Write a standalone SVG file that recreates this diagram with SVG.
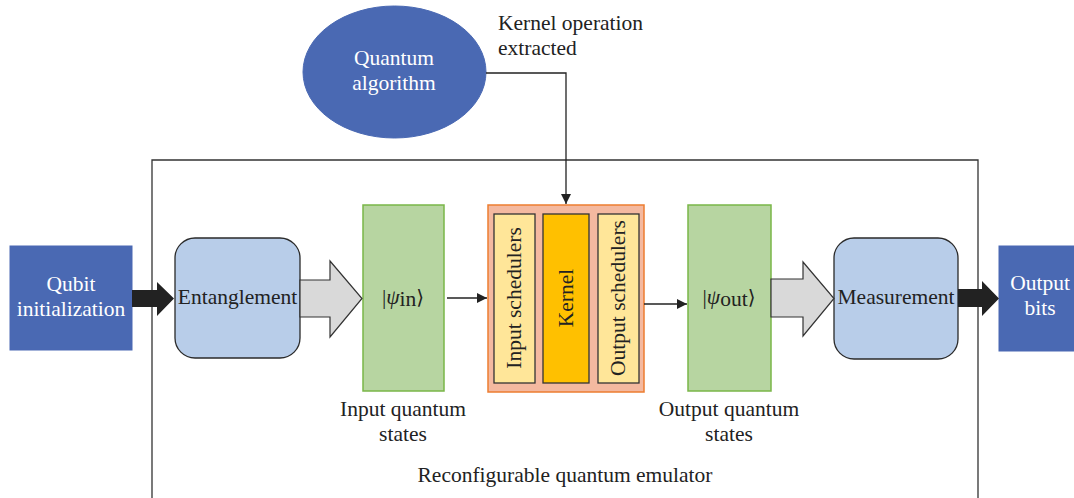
<svg xmlns="http://www.w3.org/2000/svg" width="1074" height="498" viewBox="0 0 1074 498">
<style>
text{font-family:"Liberation Serif","Times New Roman",serif;font-size:21.5px;fill:#222}
.w{fill:#fff}
.m{text-anchor:middle}
.blue{fill:#4a69b3;stroke:#4a69b3;stroke-width:1}
.lb{fill:#b8cde9;stroke:#2a2a2a;stroke-width:1.3}
.gr{fill:#b7d5a1;stroke:#7ab648;stroke-width:1.5}
.bar{fill:#ffe699;stroke:#333;stroke-width:1.3}
.gray{fill:#d9d9d9;stroke:#333;stroke-width:1.2}
.blk{fill:#222}
.ln{fill:none;stroke:#222;stroke-width:1.3}
.br{font-family:"DejaVu Serif","Liberation Serif",serif;font-size:20px}
</style>
<defs>
<marker id="ah" viewBox="0 0 10 10" refX="10" refY="5" markerWidth="10" markerHeight="10" markerUnits="userSpaceOnUse" orient="auto">
<path d="M0,0 L10,5 L0,10 Z" fill="#222"/>
</marker>
</defs>
<rect width="1074" height="498" fill="#fff"/>
<g id="frame">
<path d="M152,500 V160 H978 V500" fill="none" stroke="#333" stroke-width="1.3"/>
<text class="m" x="565" y="482">Reconfigurable quantum emulator</text>
</g>
<g id="algorithm">
<ellipse cx="394.5" cy="72" rx="91.5" ry="66" class="blue"/>
<text class="m w" x="394" y="65">Quantum</text>
<text class="m w" x="394" y="90">algorithm</text>
</g>
<g id="kernel-label">
<text x="498" y="30">Kernel operation</text>
<text x="498" y="55">extracted</text>
</g>
<g id="qubit-init">
<rect x="10" y="246" width="122" height="104" class="blue"/>
<text class="m w" x="71" y="291">Qubit</text>
<text class="m w" x="71" y="316">initialization</text>
</g>
<g id="entanglement">
<rect x="175" y="238" width="125" height="120" rx="20" class="lb"/>
<text class="m" x="237.5" y="304">Entanglement</text>
</g>
<g id="psi-in">
<rect x="363" y="205" width="81" height="186" class="gr"/>
<text class="m" x="403" y="304"><tspan>|</tspan><tspan font-style="italic">ψ</tspan><tspan dy="2">in</tspan><tspan dy="-2" class="br">⟩</tspan></text>
<text class="m" x="403" y="416">Input quantum</text>
<text class="m" x="403" y="441">states</text>
</g>
<g id="emulator-core">
<rect x="488" y="205" width="156" height="187" fill="#f4b9a0" stroke="#ed7d31" stroke-width="1.5"/>
<rect x="494" y="214" width="41" height="169" class="bar"/>
<rect x="543" y="214" width="46" height="169" fill="#ffc000" stroke="#333" stroke-width="1.3"/>
<rect x="598" y="214" width="41" height="169" class="bar"/>
<text class="m" transform="translate(521,298) rotate(-90)">Input schedulers</text>
<text class="m" transform="translate(573,298) rotate(-90)">Kernel</text>
<text class="m" transform="translate(625,298) rotate(-90)">Output schedulers</text>
</g>
<g id="psi-out">
<rect x="688" y="205" width="83" height="186" class="gr"/>
<text class="m" x="729" y="304"><tspan>|</tspan><tspan font-style="italic">ψ</tspan><tspan dy="2">out</tspan><tspan dy="-2" class="br">⟩</tspan></text>
<text class="m" x="729" y="416">Output quantum</text>
<text class="m" x="729" y="441">states</text>
</g>
<g id="measurement">
<rect x="834" y="238" width="124" height="121" rx="20" class="lb"/>
<text class="m" x="896" y="304">Measurement</text>
</g>
<g id="output-bits">
<rect x="999" y="246" width="80" height="105" class="blue"/>
<text class="m w" x="1040" y="290">Output</text>
<text class="m w" x="1040" y="315">bits</text>
</g>
<g id="connectors">
<path class="blk" d="M132,290 H157 V282 L174,298.5 L157,316 V307 H132 Z"/>
<path class="gray" d="M300,280 H330 V261 L362,298.5 L330,337 V317 H300 Z"/>
<path class="ln" d="M447,298 H487" marker-end="url(#ah)"/>
<path class="ln" d="M644,304 H687" marker-end="url(#ah)"/>
<path class="gray" d="M771,279 H803 V262 L834,298.5 L803,336 V317 H771 Z"/>
<path class="blk" d="M958,289 H982 V281 L999,298.5 L982,316 V307 H958 Z"/>
<path class="ln" d="M486,73 H566 V204" marker-end="url(#ah)"/>
</g>
</svg>
